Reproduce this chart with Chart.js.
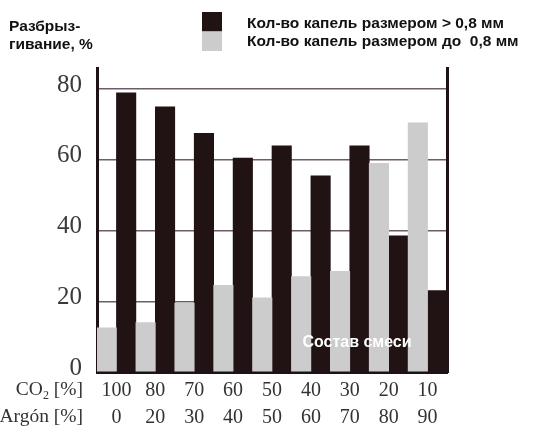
<!DOCTYPE html>
<html><head><meta charset="utf-8">
<script src="https://cdn.jsdelivr.net/npm/chart.js@4.4.0/dist/chart.umd.min.js"></script>
<style>html,body{margin:0;padding:0;background:#fff}#wrap{width:539px;height:428px}</style>
</head><body><div id="wrap"><canvas id="c" width="539" height="428"></canvas></div>
<script>
const co2 = ['100','80','70','60','50','40','30','20','10'];
const argon = ['0','20','30','40','50','60','70','80','90'];
const dropsLarge = [79, 75, 67.5, 60.5, 64, 55.5, 64, 38.5, 23];
const dropsSmall = [12.5, 14, 19.5, 24.5, 21, 27, 28.5, 59, 70.5];
const yTicks = [0, 20, 40, 60, 80];
const seriesNames = ['Кол-во капель размером > 0,8 мм', 'Кол-во капель размером до  0,8 мм'];
const yTitle = ['Разбрыз-', 'гивание, %'];
const rowHeads = [['CO', '2', ' [%]'], ['Argón [%]']];
const innerLabel = 'Состав смеси';

const DARK = '#211213';
const LIGHT = '#cccccc';
const AXIS = '#1c1218';

const labels = co2.map((c, i) => [c, argon[i]]);

const deco = {
  id: 'deco',
  afterDraw(chart) {
    const ctx = chart.ctx, a = chart.chartArea;
    ctx.save();
    // y title
    ctx.fillStyle = '#111';
    ctx.font = 'bold 15.5px "Liberation Sans", Arial, sans-serif';
    ctx.textBaseline = 'middle';
    ctx.textAlign = 'left';
    ctx.fillText(yTitle[0], 9, 27);
    ctx.fillText(yTitle[1], 9, 45);
    // legend
    const ds = chart.data.datasets;
    const order = [1, 0];
    order.forEach((di, k) => {
      ctx.fillStyle = ds[di].backgroundColor;
      ctx.fillRect(202, 12 + k * 19.5, 20, 19.5);
      ctx.fillStyle = '#111';
      ctx.fillText(ds[di].label, 247, 24 + k * 18);
    });
    // row heads
    ctx.fillStyle = '#333';
    ctx.textAlign = 'left';
    const serif = '"Liberation Serif", "Times New Roman", serif';
    const rx = 83;
    const y1 = a.bottom + 18, y2 = a.bottom + 45;
    // CO2 [%]
    ctx.font = '19.5px ' + serif;
    const wCO = ctx.measureText(rowHeads[0][0]).width;
    const wRest = ctx.measureText(rowHeads[0][2]).width;
    ctx.font = '12px ' + serif;
    const wSub = ctx.measureText(rowHeads[0][1]).width;
    let x = rx - wCO - wSub - wRest;
    ctx.font = '19.5px ' + serif;
    ctx.fillText(rowHeads[0][0], x, y1);
    ctx.font = '12px ' + serif;
    ctx.fillText(rowHeads[0][1], x + wCO, y1 + 6);
    ctx.font = '19.5px ' + serif;
    ctx.fillText(rowHeads[0][2], x + wCO + wSub, y1);
    ctx.textAlign = 'right';
    ctx.fillText(rowHeads[1][0], rx, y2);
    // inner label
    ctx.fillStyle = '#ffffff';
    ctx.textAlign = 'center';
    ctx.font = 'bold 16px "Liberation Sans", Arial, sans-serif';
    ctx.fillText(innerLabel, a.left + 260, a.bottom - 29);
    ctx.restore();
  }
};

new Chart(document.getElementById('c'), {
  type: 'bar',
  data: {
    labels: labels,
    datasets: [
      { label: seriesNames[1], data: dropsSmall, backgroundColor: LIGHT },
      { label: seriesNames[0], data: dropsLarge, backgroundColor: DARK }
    ]
  },
  options: {
    responsive: false,
    animation: false,
    devicePixelRatio: 1,
    layout: { padding: { top: 68, right: 92, left: 0, bottom: 0 } },
    plugins: { legend: { display: false }, title: { display: false }, tooltip: { enabled: false } },
    datasets: { bar: { categoryPercentage: 1, barPercentage: 1, borderWidth: 0 } },
    scales: {
      x: {
        z: 1,
        grid: { display: false, drawTicks: false },
        border: { display: true, color: AXIS, width: 3 },
        ticks: {
          color: '#333',
          font: { family: '"Liberation Serif", "Times New Roman", serif', size: 20, lineHeight: 1.35 },
          padding: 5,
          maxRotation: 0,
          autoSkip: false
        },
        afterFit: s => { s.height = 56; }
      },
      y: {
        min: 0, max: 86,
        afterBuildTicks: s => { s.ticks = yTicks.map(v => ({ value: v })); },
        grid: { color: '#6e5d68', lineWidth: 1.5, drawTicks: false },
        border: { display: true, color: AXIS, width: 3 },
        ticks: {
          color: '#3a3a3a',
          font: { family: '"Liberation Serif", "Times New Roman", serif', size: 25 },
          padding: 15,
          labelOffset: -4
        },
        afterFit: s => { s.width = 97; }
      },
      y2: {
        position: 'right',
        min: 0, max: 86,
        grid: { display: false, drawTicks: false },
        border: { display: true, color: AXIS, width: 3 },
        ticks: { display: false },
        afterFit: s => { s.width = 0; }
      }
    }
  },
  plugins: [deco]
});
</script>
</body></html>
